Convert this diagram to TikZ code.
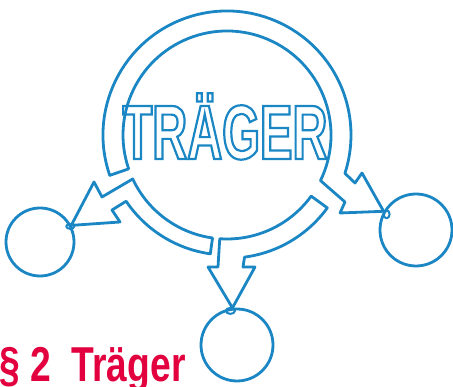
\documentclass[tikz,border=0pt]{standalone}
\usepackage{fontspec}
\usetikzlibrary{calc}
\newfontfamily\bannerfont{Liberation Sans}[FakeStretch=0.63]
\newfontfamily\titlefont{Liberation Sans}[FakeStretch=0.76]
\definecolor{penblue}{RGB}{26,134,196}
\definecolor{titlered}{RGB}{227,0,63}
\newcommand\hollowtext[1]{\special{pdf:literal direct 1 Tr 2.2 w}#1\special{pdf:literal direct 0 Tr}}

\begin{document}
\begin{tikzpicture}[
    x=1pt, y=1pt,
    pen/.style={draw=penblue, line width=2.8pt, line join=round, line cap=round},
    party/.style={pen, circle, minimum size=#1, inner sep=0pt}
]
    \useasboundingbox (0,0) rectangle (453,387);

    % hub and the three parties
    \coordinate (hub) at (227,252);
    \node[party=68] (leftobj) at (40,145) {};
    \node[party=72] (bottomobj) at (237,42) {};
    \node[party=72] (rightobj) at (416,157) {};

    % top band, turning into the right arrow
    \draw[pen] ($(hub)+(199:124)$) arc[start angle=199, end angle=-18, radius=124]
        -- (355,204) -- (362,214) -- (rightobj.150) -- (340,174) -- (345,185)
        -- ($(hub)+(-26:104)$) arc[start angle=-26, end angle=199, radius=104] -- cycle;

    % lower right band, turning into the bottom arrow
    \draw[pen] ($(hub)+(-36:124)$) arc[start angle=-36, end angle=-82.5, radius=122]
        -- (243,120) -- (255,120) -- (bottomobj.97) -- (208,120) -- (218,120)
        -- ($(hub)+(-94:104)$) arc[start angle=-94, end angle=-36, radius=104] -- cycle;

    % lower left band, turning into the left arrow
    \draw[pen] ($(hub)+(262:120)$) arc[start angle=262, end angle=214, radius=122]
        -- (112,177) -- (120,165) -- (leftobj.28) -- (94,205) -- (102,190)
        -- ($(hub)+(205:104)$) arc[start angle=205, end angle=262, radius=104] -- cycle;

    % little loops where the arrows meet the circles
    \draw[pen, line width=2pt] ($(leftobj.28)+(-1,-1)$) ellipse[x radius=4, y radius=2.5];
    \draw[pen, line width=2pt] ($(rightobj.150)+(3,-3)$) ellipse[x radius=3, y radius=4];
    \draw[pen, line width=2pt] ($(bottomobj.97)+(-2,-3)$) ellipse[x radius=4.5, y radius=3];

    % labels
    \node[anchor=base, text=penblue, inner sep=0pt] (banner) at (225,228)
        {\bannerfont\bfseries\fontsize{77}{80}\selectfont\hollowtext{TRÄGER}};
    \node[anchor=base west, text=titlered, inner sep=0pt] (title) at (-1,5)
        {\titlefont\bfseries\fontsize{49}{52}\selectfont §~2~~Träger};

\end{tikzpicture}
\end{document}
